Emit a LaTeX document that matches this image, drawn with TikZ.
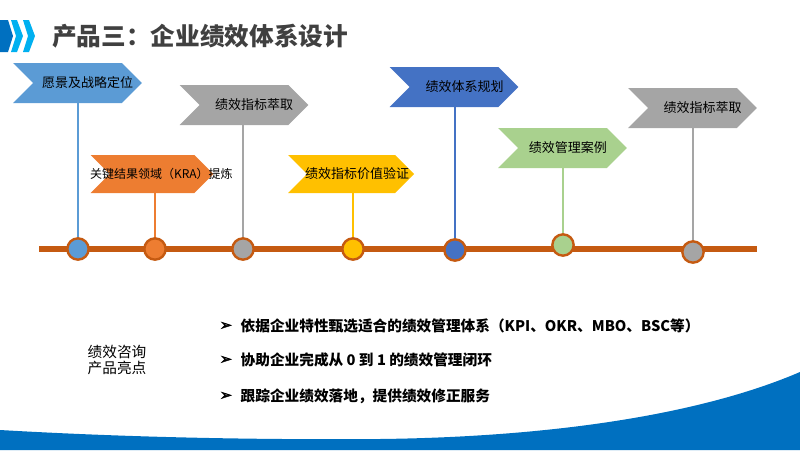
\documentclass[tikz,border=0pt]{standalone}
\usepackage{fontspec}
\setmainfont{Noto Sans CJK SC}
\newfontfamily\symfont{DejaVu Sans}[FakeBold=3]
\usetikzlibrary{shapes.symbols,positioning,backgrounds}
\definecolor{flagblue}{RGB}{91,155,213}
\definecolor{flaggray}{RGB}{165,165,165}
\definecolor{flagorange}{RGB}{237,125,49}
\definecolor{flagyellow}{RGB}{255,192,0}
\definecolor{flagdeep}{RGB}{68,114,196}
\definecolor{flaggreen}{RGB}{169,209,142}
\definecolor{tlorange}{RGB}{197,90,17}
\definecolor{headblue}{RGB}{0,112,192}
\definecolor{headlight}{RGB}{0,176,240}
\definecolor{titlegray}{RGB}{64,64,64}

\begin{document}
\begin{tikzpicture}[
    x=0.75pt, y=-0.75pt,
    flag/.style={signal, signal from=west, signal to=east, signal pointer angle=90,
                 minimum height=30pt, minimum width=96.5pt, inner sep=0pt, draw=none},
    flagtext/.style={font=\fontsize{9.75}{11}\selectfont, inner sep=0pt},
    pole/.style={line width=1.5pt},
    dot/.style={circle, minimum size=16pt, inner sep=0pt, draw=tlorange, line width=1.8pt},
    bul/.style={font=\symfont\fontsize{11}{12}\selectfont, inner sep=0pt},
    point/.style={font=\bfseries\fontsize{11}{13}\selectfont, inner sep=0pt},
]
\useasboundingbox (0,0) rectangle (800,450);

% Header
\fill[headblue] (0,20) -- (8,20) -- (13,36) -- (8,52) -- (0,52) -- cycle;
\fill[headlight] (11,20) -- (17,20) -- (23,36) -- (17,52) -- (11,52) -- (16,36) -- cycle;
\fill[headlight] (23,20) -- (29,20) -- (35,36) -- (29,52) -- (23,52) -- (28,36) -- cycle;
\node[anchor=west, inner sep=0pt, text=titlegray, font=\bfseries\fontsize{18.5}{20}\selectfont]
    (title) at (52,36) {产品三：企业绩效体系设计};

% Flags
\node[flag, fill=flagblue]   (f1) at (77.5,83) {};
\node[flag, fill=flaggray]   (f2) at (244,105) {};
\node[flag, fill=flagorange, minimum width=92pt, minimum height=28.5pt] (f3) at (152,174) {};
\node[flag, fill=flagyellow, minimum width=94.5pt, minimum height=28.5pt] (f4) at (351,174) {};
\node[flag, fill=flagdeep]   (f5) at (454,87) {};
\node[flag, fill=flaggreen]  (f6) at (562.5,148) {};
\node[flag, fill=flaggray]   (f7) at (692.5,108) {};

\node[flagtext] (t1) at ([xshift=7.5pt]f1.center) {愿景及战略定位};
\node[flagtext] (t2) at ([xshift=7.5pt]f2.center) {绩效指标萃取};
\node[flagtext, font=\fontsize{9}{10}\selectfont] (t3) at ([xshift=7pt]f3.center) {关键结果领域（KRA）提炼};
\node[flagtext] (t4) at ([xshift=4.5pt]f4.center) {绩效指标价值验证};
\node[flagtext] (t5) at ([xshift=8pt]f5.center) {绩效体系规划};
\node[flagtext] (t6) at ([xshift=4pt]f6.center) {绩效管理案例};
\node[flagtext] (t7) at ([xshift=7.5pt]f7.center) {绩效指标萃取};

% Timeline
\coordinate (p1) at (78,249);
\coordinate (p2) at (155,249);
\coordinate (p3) at (243,249);
\coordinate (p4) at (353,249);
\coordinate (p5) at (455,250);
\coordinate (p6) at (563,245);
\coordinate (p7) at (693,252);
\coordinate (tl0) at (39,249);
\coordinate (tl1) at (757,249);

\begin{pgfonlayer}{background}
\draw[pole, flagblue]   (f1.south -| p1) -- (p1);
\draw[pole, flaggray]   (f2.south -| p3) -- (p3);
\draw[pole, flagorange] (f3.south -| p2) -- (p2);
\draw[pole, flagyellow] (f4.south -| p4) -- (p4);
\draw[pole, flagdeep]   (f5.south -| p5) -- (p5);
\draw[pole, flaggreen]  (f6.south -| p6) -- (p6);
\draw[pole, flaggray]   (f7.south -| p7) -- (p7);
\draw[tlorange, line width=4.5pt] (tl0) -- (tl1);
\end{pgfonlayer}

\node[dot, fill=flagblue]   (c1) at (p1) {};
\node[dot, fill=flagorange] (c2) at (p2) {};
\node[dot, fill=flaggray]   (c3) at (p3) {};
\node[dot, fill=flagyellow] (c4) at (p4) {};
\node[dot, fill=flagdeep]   (c5) at (p5) {};
\node[dot, fill=flaggreen]  (c6) at (p6) {};
\node[dot, fill=flaggray]   (c7) at (p7) {};

% Highlights
\node[align=center, inner sep=0pt, font=\fontsize{11}{12}\selectfont] (side) at (117,360) {绩效咨询\\产品亮点};

\node[bul] (b1) at (226,326) {➢};
\node[bul] (b2) at (226,360) {➢};
\node[bul] (b3) at (226,396) {➢};
\node[point, right=6pt of b1] (m1) {依据企业特性甄选适合的绩效管理体系（KPI、OKR、MBO、BSC等）};
\node[point, right=6pt of b2] (m2) {协助企业完成从 0 到 1 的绩效管理闭环};
\node[point, right=6pt of b3] (m3) {跟踪企业绩效落地，提供绩效修正服务};

% Bottom wave
\fill[headblue] (0,430) .. controls (120,437) and (250,440) .. (380,439)
    .. controls (550,437) and (700,415) .. (800,372) -- (800,450) -- (0,450) -- cycle;

\end{tikzpicture}
\end{document}
